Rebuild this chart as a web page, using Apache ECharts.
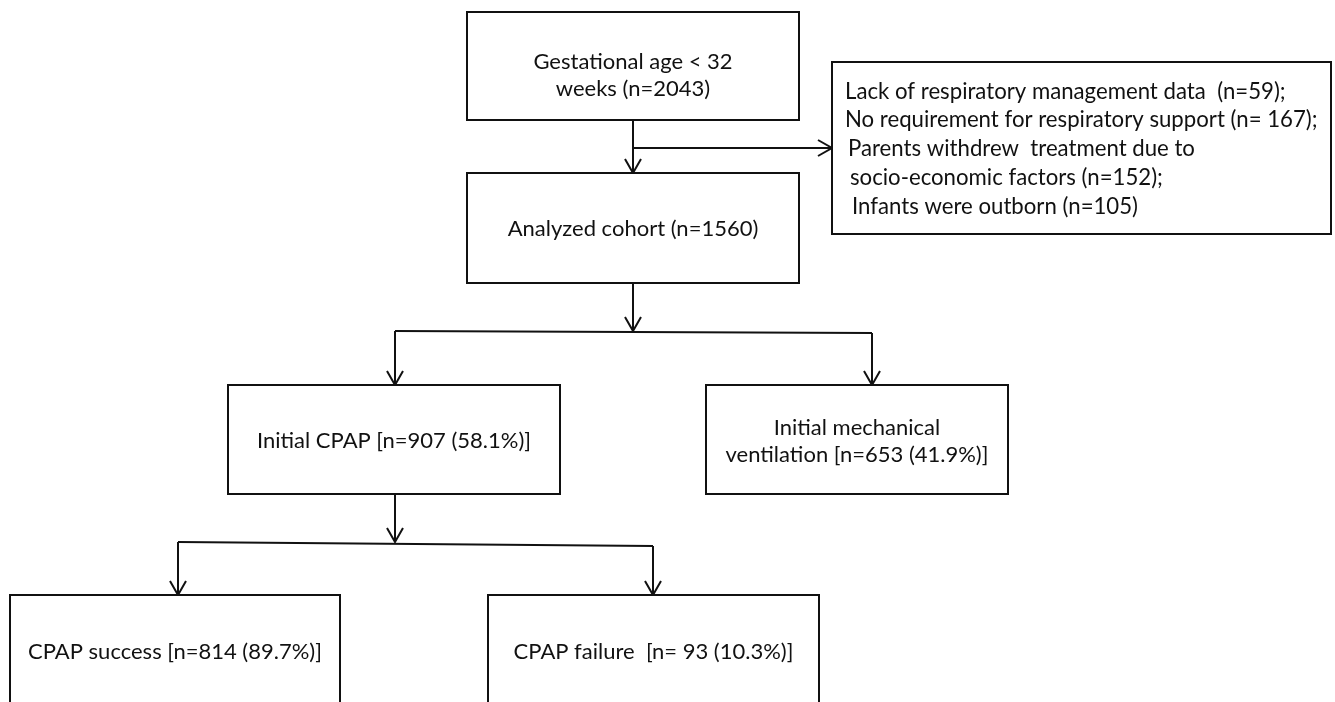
<!DOCTYPE html>
<html>
<head>
<meta charset="utf-8">
<script src="https://cdn.jsdelivr.net/npm/echarts@6/dist/echarts.min.js"></script>
<style>
html,body{margin:0;padding:0;background:#fff;}
#chart{width:1335px;height:702px;}
</style>
</head>
<body>
<div id="chart"></div>
<script>
// ---- content (text of the flow boxes) ----
const boxLabels = [
  'Gestational age < 32\nweeks (n=2043)',
  'Analyzed cohort (n=1560)',
  'Initial CPAP [n=907 (58.1%)]',
  'Initial mechanical\nventilation [n=653 (41.9%)]',
  'CPAP success [n=814 (89.7%)]',
  'CPAP failure  [n= 93 (10.3%)]'
];
const exclusionLines = [
  'Lack of respiratory management data  (n=59);',
  'No requirement for respiratory support (n= 167);',
  'Parents withdrew  treatment due to',
  'socio-economic factors (n=152);',
  'Infants were outborn (n=105)'
];

// ---- layout (in chart units, drawn through hidden value axes) ----
const boxRects = [
  [467, 12, 799, 120],
  [467, 173, 799, 283],
  [228, 385, 560, 494],
  [706, 385, 1008, 494],
  [10, 595, 340, 720],
  [488, 595, 819, 720]
];
const boxTextY = [75, 229, 441, 441, 652, 652];
const exclusionRect = [832, 62, 1331, 234];
const exclusionTextPos = [[845, 92], [845, 120], [848, 149], [850, 178], [852, 207]];
// connector polylines; last flag = arrowhead at end
const connectors = [
  [[[633, 120], [633, 173]], 1],
  [[[633, 148], [832, 148]], 1],
  [[[633, 283], [633, 331]], 1],
  [[[395, 331], [872, 333]], 0],
  [[[395, 331], [395, 385]], 1],
  [[[872, 333], [872, 385]], 1],
  [[[395, 494], [395, 542]], 1],
  [[[178, 542], [653, 546]], 0],
  [[[178, 542], [178, 595]], 1],
  [[[653, 546], [653, 595]], 1]
];

const FONT = 'Lato';
const INK = '#111';

const chart = echarts.init(document.getElementById('chart'), null, {renderer: 'canvas'});

function rectShape(api, r) {
  const p0 = api.coord([r[0], r[1]]);
  const p1 = api.coord([r[2], r[3]]);
  return {x: p0[0], y: p0[1], width: p1[0] - p0[0], height: p1[1] - p0[1]};
}

const option = {
  animation: false,
  backgroundColor: '#fff',
  grid: {left: 0, right: 0, top: 0, bottom: 0},
  xAxis: {type: 'value', min: 0, max: 1335, show: false},
  yAxis: {type: 'value', min: 0, max: 702, inverse: true, show: false},
  series: [
    {
      type: 'custom',
      name: 'connectors',
      clip: false,
      data: connectors.map((c, i) => [i]),
      renderItem: function (params, api) {
        const c = connectors[params.dataIndex];
        const pts = c[0].map(p => api.coord(p));
        const children = [{
          type: 'polyline',
          shape: {points: pts},
          style: {stroke: INK, lineWidth: 2, fill: null}
        }];
        if (c[1]) {
          const a = pts[pts.length - 2], b = pts[pts.length - 1];
          const ang = Math.atan2(b[1] - a[1], b[0] - a[0]);
          const L = 14, W = 8;
          const bx = b[0] - L * Math.cos(ang), by = b[1] - L * Math.sin(ang);
          const nx = -Math.sin(ang) * W, ny = Math.cos(ang) * W;
          children.push({
            type: 'polyline',
            shape: {points: [[bx + nx, by + ny], b, [bx - nx, by - ny]]},
            style: {stroke: INK, lineWidth: 2, fill: null}
          });
        }
        return {type: 'group', children: children};
      }
    },
    {
      type: 'custom',
      name: 'boxes',
      clip: false,
      data: boxLabels.map((t, i) => [i]),
      renderItem: function (params, api) {
        const i = params.dataIndex;
        const r = boxRects[i];
        const s = rectShape(api, r);
        const c = api.coord([(r[0] + r[2]) / 2, boxTextY[i]]);
        return {
          type: 'group',
          children: [
            {type: 'rect', shape: s, style: {fill: '#fff', stroke: INK, lineWidth: 2}},
            {type: 'text', x: c[0], y: c[1], style: {
              text: boxLabels[i], fill: INK, font: '22px ' + FONT,
              align: 'center', verticalAlign: 'middle', lineHeight: 27
            }}
          ]
        };
      }
    },
    {
      type: 'custom',
      name: 'exclusions',
      clip: false,
      data: [[0]],
      renderItem: function (params, api) {
        const s = rectShape(api, exclusionRect);
        const children = [{type: 'rect', shape: s, style: {fill: '#fff', stroke: INK, lineWidth: 2}}];
        exclusionLines.forEach((t, k) => {
          const p = api.coord(exclusionTextPos[k]);
          children.push({type: 'text', x: p[0], y: p[1], style: {
            text: t, fill: INK, font: '22.2px ' + FONT, align: 'left', verticalAlign: 'middle'
          }});
        });
        return {type: 'group', children: children};
      }
    }
  ]
};
chart.setOption(option);
</script>
</body>
</html>
